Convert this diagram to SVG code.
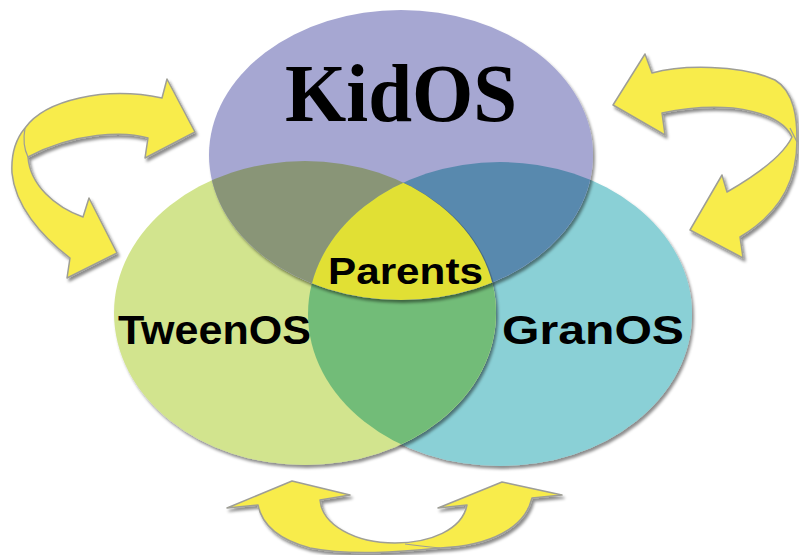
<svg xmlns="http://www.w3.org/2000/svg" width="799" height="555" viewBox="0 0 799 555">
  <defs>
    <style>
      .arrow { fill: #F8EC4C; stroke: #9E9E96; stroke-width: 1.5; stroke-linejoin: round; filter: url(#shadow); }
      .crease { fill: none; stroke: #9E9E96; stroke-width: 1.2; }
      .label { font-family: "Liberation Sans", Arial, sans-serif; font-weight: bold; fill: #000; text-anchor: middle; }
      .title { font-family: "Liberation Serif", "Times New Roman", serif; font-weight: bold; fill: #000; text-anchor: middle; }
      .edge { fill: none; stroke: #2f3a3a; stroke-opacity: 0.35; stroke-width: 1.5; }
    </style>
    <filter id="shadow" x="-10%" y="-10%" width="125%" height="130%">
      <feDropShadow dx="2" dy="3" stdDeviation="1.5" flood-color="#000" flood-opacity="0.45"/>
    </filter>
    <clipPath id="clipKid"><ellipse cx="401" cy="155" rx="192" ry="145"/></clipPath>
    <clipPath id="clipTween"><ellipse cx="305" cy="313" rx="191" ry="152"/></clipPath>
    <clipPath id="clipGran"><ellipse cx="500" cy="314" rx="192" ry="152"/></clipPath>
  </defs>

  <rect width="799" height="555" fill="#fff"/>

  <!-- GranOS circle (bottom layer) -->
  <g id="node-granos">
    <ellipse cx="500" cy="314" rx="192" ry="152" fill="#8AD0D6" filter="url(#shadow)"/>
  </g>

  <!-- TweenOS circle, with its overlap on GranOS -->
  <g id="node-tweenos">
    <ellipse cx="305" cy="313" rx="191" ry="152" fill="#D2E48E" filter="url(#shadow)"/>
    <ellipse cx="305" cy="313" rx="191" ry="152" fill="#72BC78" clip-path="url(#clipGran)"/>
    <text class="label" x="214.5" y="344" font-size="41" textLength="193" lengthAdjust="spacingAndGlyphs">TweenOS</text>
  </g>

  <g id="label-granos">
    <text class="label" x="593" y="344" font-size="41" textLength="182" lengthAdjust="spacingAndGlyphs">GranOS</text>
  </g>

  <!-- KidOS circle (top layer) with its overlaps -->
  <g id="node-kidos">
    <ellipse cx="401" cy="155" rx="192" ry="145" fill="#A6A7D2" filter="url(#shadow)"/>
    <ellipse cx="401" cy="155" rx="192" ry="145" fill="#899577" clip-path="url(#clipTween)"/>
    <ellipse cx="401" cy="155" rx="192" ry="145" fill="#5889AE" clip-path="url(#clipGran)"/>
    <g clip-path="url(#clipKid)">
      <g clip-path="url(#clipGran)">
        <ellipse class="edge" cx="306" cy="314" rx="191" ry="152"/>
      </g>
    </g>
    <text class="title" x="401" y="121" font-size="83" textLength="232" lengthAdjust="spacingAndGlyphs">KidOS</text>
  </g>

  <!-- Shared centre -->
  <g id="node-parents">
    <g clip-path="url(#clipTween)">
      <ellipse cx="401" cy="155" rx="192" ry="145" fill="#E1E034" clip-path="url(#clipGran)"/>
    </g>
    <text class="label" x="405.5" y="284" font-size="37" textLength="155" lengthAdjust="spacingAndGlyphs">Parents</text>
  </g>

  <!-- Curved two-way arrows -->
  <g id="connectors">
    <g id="arrow-left">
      <path class="arrow" d="M195,132 L145,158 L148,138 C125,131 75,132 28,157 C30,185 55,207 83,217 L89,198 L117,253 L67,278 L70,258 C40,235 15,205 12,173 C11,155 15,140 25,128 C45,100 105,86 162,98 L167,79 Z"/>
      <path class="crease" d="M25,128 Q22,145 28,157"/>
    </g>
    <g id="arrow-right">
      <path class="arrow" d="M613,105 L645,54 L652,73 C680,65 740,64 775,80 C795,92 797,120 797,140 C797,175 785,210 740,237 L743,258 L690,230 L722,175 L727,192 C753,177 782,158 792,137 C785,122 765,112 733,108 C710,106 685,108 662,113 L665,135 Z"/>
      <path class="crease" d="M790,128 L797,142"/>
    </g>
    <g id="arrow-bottom">
      <path class="arrow" d="M292,481 L350,495 L320,500 C322,525 355,543 395,543 C430,543 462,530 467,505 L438,508 L502,482 L562,495 L532,498 C525,528 490,546 440,548 C400,552 350,556 310,548 C280,540 262,525 258,505 L227,508 Z"/>
      <path class="crease" d="M405,544 C420,546 430,547 440,548"/>
    </g>
  </g>
</svg>
